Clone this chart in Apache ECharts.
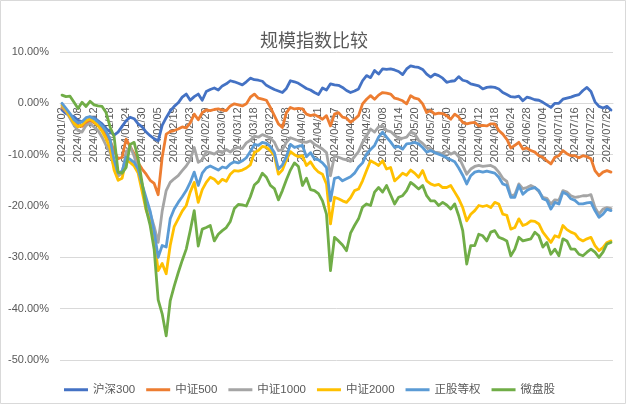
<!DOCTYPE html>
<html>
<head>
<meta charset="utf-8">
<script src="https://cdn.jsdelivr.net/npm/echarts@6/dist/echarts.min.js"></script>
<style>
html,body{margin:0;padding:0;background:#fff;}
#c{width:628px;height:406px;}
</style>
</head>
<body>
<div id="c"></div>
<script>
var dates = [
'2024/01/02','2024/01/03','2024/01/04','2024/01/05','2024/01/08','2024/01/09','2024/01/10','2024/01/11','2024/01/12','2024/01/15',
'2024/01/16','2024/01/17','2024/01/18','2024/01/19','2024/01/22','2024/01/23','2024/01/24','2024/01/25','2024/01/26','2024/01/29',
'2024/01/30','2024/01/31','2024/02/01','2024/02/02','2024/02/05','2024/02/06','2024/02/07','2024/02/08','2024/02/19','2024/02/20',
'2024/02/21','2024/02/22','2024/02/23','2024/02/26','2024/02/27','2024/02/28','2024/02/29','2024/03/01','2024/03/04','2024/03/05',
'2024/03/06','2024/03/07','2024/03/08','2024/03/11','2024/03/12','2024/03/13','2024/03/14','2024/03/15','2024/03/18','2024/03/19',
'2024/03/20','2024/03/21','2024/03/22','2024/03/25','2024/03/26','2024/03/27','2024/03/28','2024/03/29','2024/04/01','2024/04/02',
'2024/04/03','2024/04/08','2024/04/09','2024/04/10','2024/04/11','2024/04/12','2024/04/15','2024/04/16','2024/04/17','2024/04/18',
'2024/04/19','2024/04/22','2024/04/23','2024/04/24','2024/04/25','2024/04/26','2024/04/29','2024/04/30','2024/05/06','2024/05/07',
'2024/05/08','2024/05/09','2024/05/10','2024/05/13','2024/05/14','2024/05/15','2024/05/16','2024/05/17','2024/05/20','2024/05/21',
'2024/05/22','2024/05/23','2024/05/24','2024/05/27','2024/05/28','2024/05/29','2024/05/30','2024/05/31','2024/06/03','2024/06/04',
'2024/06/05','2024/06/06','2024/06/07','2024/06/11','2024/06/12','2024/06/13','2024/06/14','2024/06/17','2024/06/18','2024/06/19',
'2024/06/20','2024/06/21','2024/06/24','2024/06/25','2024/06/26','2024/06/27','2024/06/28','2024/07/01','2024/07/02','2024/07/03',
'2024/07/04','2024/07/05','2024/07/08','2024/07/09','2024/07/10','2024/07/11','2024/07/12','2024/07/15','2024/07/16','2024/07/17',
'2024/07/18','2024/07/19','2024/07/22','2024/07/23','2024/07/24','2024/07/25','2024/07/26','2024/07/29'
];

var seriesNames = ['沪深300','中证500','中证1000','中证2000','正股等权','微盘股'];

var hs300 = [
-1.3,-2.0,-2.4,-2.6,-3.3,-3.6,-3.9,-3.2,-2.8,-3.4,
-4.0,-4.9,-5.5,-6.2,-5.6,-4.5,-3.4,-2.7,-3.0,-4.0,
-4.6,-5.6,-6.3,-6.9,-7.3,-4.3,-2.8,-1.5,-0.6,0.1,
1.2,1.8,0.6,1.3,1.8,0.6,2.3,2.7,3.0,2.6,
3.4,3.8,4.4,4.2,3.9,3.6,4.2,4.9,4.6,4.5,
4.3,3.5,3.1,2.7,2.4,2.1,2.9,4.4,4.2,3.9,
3.4,2.9,2.6,2.1,1.7,3.0,2.6,3.8,3.6,3.5,
3.1,2.5,2.1,2.4,2.8,4.4,5.4,5.0,6.4,5.7,
6.7,6.6,6.7,6.5,6.2,5.6,6.7,7.3,7.1,7.0,
6.6,5.7,5.1,5.7,5.4,4.9,4.1,4.3,4.4,5.2,
4.5,4.3,3.8,3.6,3.4,2.8,3.1,3.2,3.1,2.8,
2.1,1.7,1.3,1.2,1.4,0.5,1.2,1.0,0.7,0.6,
0.2,-0.3,-0.8,0.0,0.0,0.8,1.0,1.2,1.5,1.7,
2.5,3.1,2.3,0.3,-0.6,-0.9,-0.6,-1.3
];

var zz500 = [
-0.8,-1.6,-2.5,-3.6,-4.3,-4.5,-3.8,-3.3,-3.8,-4.3,
-5.0,-6.0,-7.3,-9.2,-10.8,-10.5,-7.0,-8.4,-9.8,-11.6,
-12.8,-13.8,-15.0,-15.6,-17.8,-10.5,-6.0,-5.5,-5.3,-5.0,
-4.6,-4.8,-3.8,-2.1,-3.2,-1.8,-1.3,-1.4,-1.2,-1.1,
-1.3,-1.4,-0.5,-0.1,-0.3,-0.5,-0.1,1.2,1.8,1.0,
0.8,0.6,-0.8,-2.4,-4.0,-4.7,-1.8,-0.8,-1.1,-1.0,
-1.1,-2.1,-2.4,-2.2,-2.6,-3.1,-2.4,-4.4,-2.1,-1.8,
-2.7,-2.9,-3.7,-3.1,-2.4,-0.1,0.8,1.5,0.8,1.6,
2.1,2.0,1.8,1.0,0.8,0.5,-0.1,1.5,1.0,0.8,
-0.1,-1.8,-1.4,-2.1,-1.9,-2.0,-2.4,-3.1,-2.1,-2.7,
-3.7,-4.0,-3.8,-3.7,-4.4,-4.3,-4.4,-4.0,-4.0,-5.3,
-6.0,-7.0,-8.7,-8.2,-7.6,-8.9,-8.7,-9.2,-9.5,-10.2,
-10.5,-11.2,-11.8,-10.5,-10.2,-9.2,-9.8,-10.2,-10.2,-10.6,
-10.2,-10.4,-10.8,-13.1,-14.1,-13.4,-13.1,-13.4
];

var zz1000 = [
-0.5,-1.5,-2.9,-4.3,-5.3,-5.6,-4.3,-3.9,-4.6,-5.3,
-6.6,-8.2,-9.6,-12.4,-14.2,-13.6,-9.6,-8.4,-10.3,-13.0,
-16.0,-19.1,-21.4,-24.0,-27.1,-21.0,-17.0,-15.4,-14.7,-14.1,
-13.1,-12.2,-11.0,-8.6,-11.5,-11.0,-9.4,-9.6,-9.9,-9.3,
-9.6,-9.0,-9.5,-8.8,-8.6,-8.8,-7.7,-7.2,-6.4,-6.6,
-6.1,-6.4,-6.8,-7.6,-9.2,-9.0,-7.6,-6.7,-7.0,-7.3,
-7.5,-7.6,-7.3,-8.0,-8.4,-8.9,-9.6,-14.1,-10.2,-10.5,
-10.8,-11.0,-11.3,-10.4,-9.4,-7.6,-6.3,-5.0,-5.6,-4.6,
-4.4,-5.3,-5.5,-6.2,-6.9,-6.8,-6.6,-5.6,-5.9,-7.2,
-7.8,-8.6,-8.9,-9.5,-9.6,-9.9,-9.2,-9.9,-9.5,-10.4,
-12.1,-13.8,-12.8,-12.3,-12.1,-12.3,-12.2,-12.1,-12.5,-13.4,
-14.6,-15.2,-18.0,-17.8,-15.7,-16.6,-16.4,-16.0,-16.4,-17.2,
-18.3,-18.5,-19.6,-18.8,-18.9,-17.0,-17.3,-18.0,-18.3,-18.2,
-18.0,-18.0,-17.8,-20.3,-21.6,-20.6,-20.3,-20.5
];

var zz2000 = [
-0.3,-1.3,-2.6,-3.9,-4.6,-4.2,-3.4,-3.0,-3.6,-4.4,
-5.4,-6.9,-8.8,-13.0,-15.0,-14.6,-11.0,-11.5,-12.2,-13.6,
-17.2,-20.8,-23.0,-26.5,-32.6,-31.2,-33.2,-27.7,-24.0,-22.5,
-21.0,-19.9,-17.3,-15.4,-19.3,-16.8,-15.4,-14.4,-14.8,-15.6,
-14.8,-15.2,-13.8,-13.1,-13.2,-13.0,-12.6,-12.0,-9.6,-9.2,
-8.4,-8.6,-9.2,-10.2,-13.8,-13.0,-11.0,-9.4,-10.0,-10.4,
-10.2,-12.1,-11.4,-12.6,-13.4,-13.8,-15.7,-23.5,-18.3,-18.6,
-19.0,-19.3,-18.4,-17.0,-16.7,-15.1,-13.1,-11.2,-11.6,-12.1,
-11.2,-12.8,-12.5,-15.1,-14.4,-13.6,-14.0,-13.0,-13.6,-14.4,
-13.1,-15.1,-15.7,-16.0,-15.8,-16.4,-16.4,-16.0,-17.3,-18.6,
-20.3,-22.9,-21.6,-20.9,-19.9,-20.1,-19.9,-20.3,-19.3,-19.6,
-21.6,-21.8,-24.5,-24.2,-22.5,-23.8,-23.5,-22.9,-23.0,-23.5,
-25.1,-26.1,-27.1,-25.8,-26.1,-23.8,-24.6,-25.1,-25.4,-26.4,
-26.8,-26.4,-26.1,-27.7,-28.7,-28.1,-27.1,-26.8
];

var zgdq = [
0.0,-1.0,-2.0,-3.2,-3.8,-3.6,-2.8,-2.6,-3.0,-3.6,
-4.4,-5.4,-7.0,-11.0,-13.6,-13.2,-10.5,-10.9,-11.5,-12.8,
-15.8,-18.4,-21.0,-25.0,-30.0,-27.7,-28.0,-22.5,-20.6,-19.3,
-18.2,-17.0,-15.4,-13.4,-16.0,-13.6,-12.6,-12.2,-12.6,-13.0,
-12.4,-12.6,-11.8,-11.4,-11.6,-11.2,-10.6,-9.4,-8.0,-8.2,
-7.6,-7.8,-8.4,-9.6,-12.8,-12.0,-10.4,-8.0,-8.6,-8.4,
-8.2,-10.4,-9.6,-10.8,-11.0,-11.6,-12.5,-19.0,-14.6,-14.4,
-15.1,-14.7,-14.3,-13.6,-12.4,-11.6,-9.9,-9.0,-8.2,-6.6,
-5.6,-6.6,-7.5,-8.6,-8.4,-8.9,-7.9,-7.8,-7.6,-7.9,
-8.6,-9.5,-9.2,-9.6,-9.9,-10.2,-10.6,-11.0,-11.4,-12.6,
-14.0,-15.7,-14.1,-13.4,-13.2,-13.4,-13.2,-13.4,-13.6,-14.4,
-15.7,-16.0,-18.3,-18.3,-16.0,-17.7,-17.0,-16.6,-16.4,-17.0,
-18.6,-18.9,-20.6,-19.3,-19.6,-17.3,-17.7,-18.6,-18.9,-19.6,
-19.6,-19.4,-19.3,-20.9,-22.2,-21.6,-20.6,-20.9
];

var wpg = [
1.6,1.3,1.4,0.2,-1.0,0.2,-0.6,0.4,-0.3,-0.5,
-0.6,-1.8,-4.6,-6.5,-13.4,-13.6,-12.5,-8.0,-7.6,-10.8,
-15.5,-20.6,-23.8,-28.5,-38.3,-41.0,-45.3,-38.5,-35.6,-33.0,
-30.6,-28.4,-24.8,-20.9,-27.8,-24.5,-24.2,-23.8,-26.8,-25.5,
-24.8,-24.2,-23.0,-20.5,-19.7,-19.8,-20.0,-18.2,-15.9,-15.2,
-13.6,-14.4,-16.0,-16.6,-18.8,-17.0,-14.9,-13.0,-11.6,-12.3,
-16.0,-14.6,-16.8,-17.0,-17.6,-19.0,-21.6,-32.6,-26.1,-26.8,
-27.6,-28.7,-25.3,-23.8,-22.5,-20.2,-19.6,-19.9,-17.3,-16.4,
-17.3,-16.0,-17.8,-19.6,-18.3,-18.0,-17.0,-15.4,-16.0,-16.7,
-16.0,-18.0,-19.0,-19.0,-19.9,-19.3,-19.8,-20.6,-19.6,-21.9,
-24.8,-31.3,-27.7,-27.7,-25.5,-25.8,-26.8,-25.1,-24.8,-26.1,
-26.4,-26.8,-29.7,-28.4,-26.1,-26.8,-26.6,-26.4,-25.1,-25.8,
-28.0,-27.1,-29.4,-28.4,-29.7,-26.4,-26.8,-28.4,-28.4,-29.4,
-29.7,-29.0,-28.4,-29.0,-30.0,-29.0,-27.4,-27.1
];

var colors = ['#4472C4','#ED7D31','#A5A5A5','#FFC000','#5B9BD5','#70AD47'];
var valueSets = [hs300, zz500, zz1000, zz2000, zgdq, wpg];

var Y_MIN = -50, Y_MAX = 10;
var GRID_TOP = 52, GRID_BOTTOM = 46, H = 406;
var plotH = H - GRID_TOP - GRID_BOTTOM;
var zeroOffset = plotH * (0 - Y_MIN) / (Y_MAX - Y_MIN);

var FONT = "'Liberation Sans','Noto Sans CJK SC',sans-serif";
var chart = echarts.init(document.getElementById('c'), null, {renderer:'canvas'});

var series = seriesNames.map(function(n, k){
  return {
    name: n, type: 'line', data: valueSets[k], symbol: 'none',
    lineStyle: {width: 2.8, color: colors[k], cap: 'round', join: 'round'},
    itemStyle: {color: colors[k]},
    emphasis: {disabled: true},
    z: 3,
    animation: false
  };
});

chart.setOption({
  animation: false,
  backgroundColor: '#ffffff',
  title: {
    text: '规模指数比较', left: 'center', top: 28,
    textStyle: {fontSize: 18, fontWeight: 'normal', color: '#595959', fontFamily: FONT}
  },
  legend: {
    data: seriesNames, left: 59, top: 379,
    icon: 'rect', itemWidth: 24, itemHeight: 3, itemGap: 11,
    textStyle: {fontSize: 11.5, color: '#595959', fontFamily: FONT}
  },
  grid: {left: 60, right: 15, top: GRID_TOP, bottom: GRID_BOTTOM, containLabel: false},
  xAxis: {
    type: 'category', data: dates, boundaryGap: true,
    position: 'bottom', offset: -zeroOffset, z: 1,
    axisLine: {onZero: false, lineStyle: {color: '#D9D9D9', width: 1}},
    axisTick: {show: false},
    axisLabel: {interval: 3, rotate: 90, fontSize: 11, color: '#595959', margin: 4, fontFamily: FONT},
    splitLine: {show: false}
  },
  yAxis: {
    type: 'value', min: Y_MIN, max: Y_MAX, interval: 10,
    axisLine: {show: false}, axisTick: {show: false},
    axisLabel: {fontSize: 11, color: '#595959', margin: 11, fontFamily: FONT,
      formatter: function(v){ return v.toFixed(2) + '%'; }},
    splitLine: {lineStyle: {color: '#D9D9D9', width: 1}}
  },
  graphic: [{
    type: 'rect', silent: true, z: -1,
    shape: {x: 0.5, y: 0.5, width: 625, height: 403},
    style: {fill: 'none', stroke: '#D9D9D9', lineWidth: 1}
  }],
  series: series
});
</script>
</body>
</html>
